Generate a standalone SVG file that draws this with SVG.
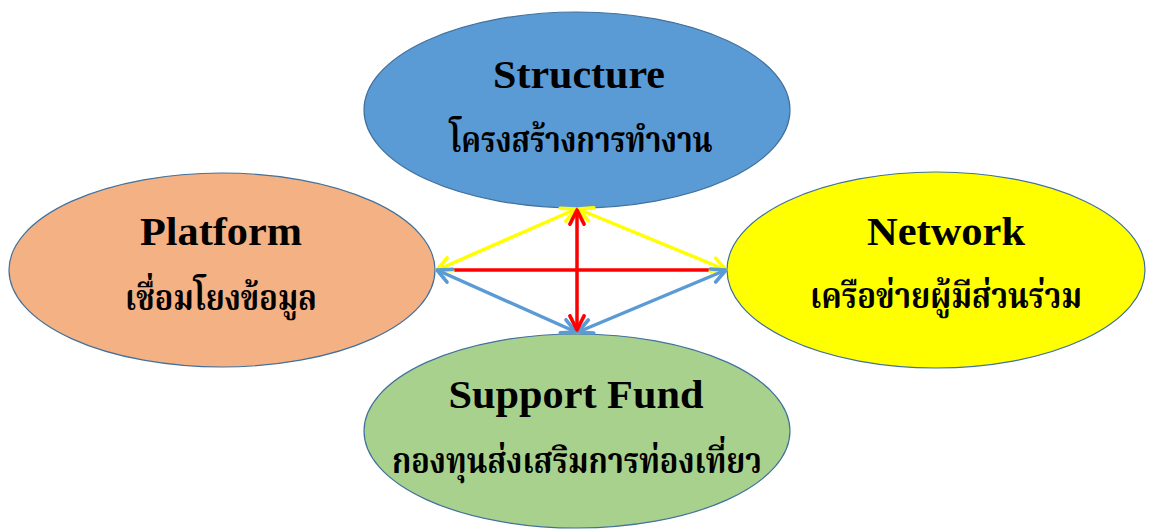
<svg xmlns="http://www.w3.org/2000/svg" width="1149" height="529" viewBox="0 0 1149 529">
<style>
.node{stroke:#41719C;stroke-width:1.2}
.en{font-family:"Liberation Serif","Times New Roman",serif;font-weight:bold;font-size:40px;fill:#000;text-anchor:middle}
.th{font-family:"Liberation Serif","Noto Serif Thai","Noto Sans Thai",serif;font-weight:bold;font-size:35px;fill:#000;text-anchor:middle}
.c{fill:none;stroke-width:3.5}
</style>
<defs>
<marker id="mY" viewBox="0 0 14 14" refX="12.5" refY="7" markerWidth="18" markerHeight="18" markerUnits="userSpaceOnUse" orient="auto-start-reverse"><path d="M1.5,1.5 L12.5,7 L1.5,12.5" fill="none" stroke="#FFFF00" stroke-width="2.8" stroke-linecap="round" stroke-linejoin="round"/></marker>
<marker id="mR" viewBox="0 0 14 14" refX="12.5" refY="7" markerWidth="18" markerHeight="18" markerUnits="userSpaceOnUse" orient="auto-start-reverse"><path d="M1.5,1.5 L12.5,7 L1.5,12.5" fill="none" stroke="#FF0000" stroke-width="2.8" stroke-linecap="round" stroke-linejoin="round"/></marker>
<marker id="mB" viewBox="0 0 14 14" refX="12.5" refY="7" markerWidth="18" markerHeight="18" markerUnits="userSpaceOnUse" orient="auto-start-reverse"><path d="M1.5,1.5 L12.5,7 L1.5,12.5" fill="none" stroke="#5B9BD5" stroke-width="2.8" stroke-linecap="round" stroke-linejoin="round"/></marker>
</defs>
<rect width="1149" height="529" fill="#fff"/>
<g id="structure">
<ellipse class="node" cx="577" cy="110" rx="213" ry="98" fill="#5B9BD5"/>
<text class="en" x="579" y="88" textLength="172" lengthAdjust="spacingAndGlyphs">Structure</text>
<text class="th" x="581" y="152" textLength="263" lengthAdjust="spacingAndGlyphs">โครงสร้างการทำงาน</text>
</g>
<g id="platform">
<ellipse class="node" cx="222" cy="270" rx="213" ry="97" fill="#F4B183"/>
<text class="en" x="221" y="245" textLength="162" lengthAdjust="spacingAndGlyphs">Platform</text>
<text class="th" x="221" y="310" textLength="192" lengthAdjust="spacingAndGlyphs">เชื่อมโยงข้อมูล</text>
</g>
<g id="network">
<ellipse class="node" cx="936" cy="270" rx="209" ry="98" fill="#FFFF00"/>
<text class="en" x="946" y="245" textLength="158" lengthAdjust="spacingAndGlyphs">Network</text>
<text class="th" x="946" y="308" textLength="272" lengthAdjust="spacingAndGlyphs">เครือข่ายผู้มีส่วนร่วม</text>
</g>
<g id="support-fund">
<ellipse class="node" cx="577" cy="431" rx="213" ry="97" fill="#A9D18E"/>
<text class="en" x="576" y="408" textLength="255" lengthAdjust="spacingAndGlyphs">Support Fund</text>
<text class="th" x="577" y="473" textLength="370" lengthAdjust="spacingAndGlyphs">กองทุนส่งเสริมการท่องเที่ยว</text>
</g>
<g id="connectors">
<line class="c" x1="444" y1="270" x2="719" y2="270" stroke="#FF0000"/>
<line class="c" x1="437" y1="270" x2="576" y2="209" stroke="#FFFF00" marker-start="url(#mY)" marker-end="url(#mY)"/>
<line class="c" x1="578" y1="209" x2="726" y2="270" stroke="#FFFF00" marker-start="url(#mY)" marker-end="url(#mY)"/>
<line class="c" x1="437" y1="270" x2="576" y2="332" stroke="#5B9BD5" marker-start="url(#mB)" marker-end="url(#mB)"/>
<line class="c" x1="578" y1="332" x2="726" y2="270" stroke="#5B9BD5" marker-start="url(#mB)" marker-end="url(#mB)"/>
<line class="c" x1="577" y1="210" x2="577" y2="330" stroke="#FF0000" marker-start="url(#mR)" marker-end="url(#mR)"/>
</g>
</svg>
